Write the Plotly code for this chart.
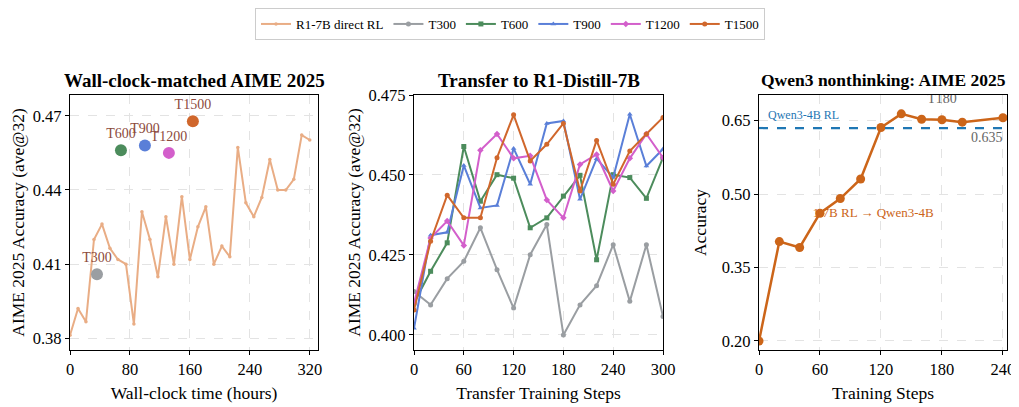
import plotly.graph_objects as go

# ---- left panel: wall-clock matched ----
rl_hours = [0, 10.7, 21.3, 32, 42.7, 53.3, 64, 74.7, 85.3, 96, 106.7, 117.3, 128, 138.7,
            149.3, 160, 170.7, 181.3, 192, 202.7, 213.3, 224, 234.7, 245.3, 256, 266.7,
            277.3, 288, 298.7, 309.3, 320]
rl_acc = [0.3813, 0.3921, 0.3867, 0.4200, 0.4262, 0.4164, 0.4119, 0.4100, 0.3858, 0.4312,
          0.4200, 0.4049, 0.4292, 0.4100, 0.4373, 0.4119, 0.4251, 0.4332, 0.4100, 0.4173,
          0.4130, 0.4572, 0.4348, 0.4292, 0.4370, 0.4523, 0.4400, 0.4400, 0.4443, 0.4622,
          0.4602]

teacher_names = ["T300", "T600", "T900", "T1200", "T1500"]
teacher_hours = [36, 68, 100, 132, 164]
teacher_acc = [0.4059, 0.4561, 0.4580, 0.4550, 0.4678]

# ---- middle panel: transfer to R1-Distill-7B ----
transfer_steps = [0, 20, 40, 60, 80, 100, 120, 140, 160, 180, 200, 220, 240, 260, 280, 300]
transfer_acc = {
    "T300": [0.4136, 0.4094, 0.4176, 0.4230, 0.4335, 0.4204, 0.4084, 0.4251,
             0.4345, 0.4000, 0.4094, 0.4154, 0.4282, 0.4105, 0.4282, 0.4058],
    "T600": [0.4100, 0.4199, 0.4288, 0.4589, 0.4418, 0.4501, 0.4490, 0.4335,
             0.4366, 0.4434, 0.4499, 0.4235, 0.4501, 0.4492, 0.4427, 0.4554],
    "T900": [0.4021, 0.4312, 0.4321, 0.4530, 0.4397, 0.4405, 0.4583, 0.4471,
             0.4661, 0.4669, 0.4424, 0.4551, 0.4492, 0.4690, 0.4528, 0.4581],
    "T1200": [0.4099, 0.4303, 0.4356, 0.4280, 0.4577, 0.4628, 0.4552, 0.4560,
              0.4422, 0.4366, 0.4533, 0.4564, 0.4450, 0.4552, 0.4628, 0.4554],
    "T1500": [0.4078, 0.4293, 0.4437, 0.4366, 0.4366, 0.4554, 0.4688, 0.4544,
              0.4596, 0.4661, 0.4450, 0.4608, 0.4471, 0.4575, 0.4628, 0.4680],
}

# ---- right panel: Qwen3 nonthinking ----
qwen_steps = [0, 20, 40, 60, 80, 100, 120, 140, 160, 180, 200, 240]
qwen_acc = [0.200, 0.403, 0.391, 0.461, 0.491, 0.531, 0.636, 0.664, 0.653, 0.652, 0.647, 0.656]
qwen_rl_baseline = 0.635

colors = {"RL": "#e9ad85", "T300": "#9a9ea2", "T600": "#4c8c5c", "T900": "#5a7fd8",
          "T1200": "#d35fcb", "T1500": "#d0672c"}
symbols = {"T300": "circle", "T600": "square", "T900": "triangle-up",
           "T1200": "diamond", "T1500": "circle"}
QWEN_ORANGE = "#cc6519"
LABEL_BROWN = "#8c4a3c"
FONT = "Liberation Serif, Times New Roman, serif"

# page body has an 8px margin, so size the figure to what is left of the window
W, H, OFF = 1011, 399, 8


def px_x(p):
    return (p - OFF) / W


def px_y(p):
    return 1 - (p - OFF) / H


fig = go.Figure()

# left
fig.add_trace(go.Scatter(x=rl_hours, y=rl_acc, mode="lines+markers", name="R1-7B direct RL",
                         line=dict(color=colors["RL"], width=2), marker=dict(size=3.5),
                         xaxis="x", yaxis="y"))
fig.add_trace(go.Scatter(x=teacher_hours, y=teacher_acc, mode="markers+text",
                         text=teacher_names, textposition="top center",
                         textfont=dict(color=LABEL_BROWN, size=14, family=FONT),
                         marker=dict(size=12, color=[colors[n] for n in teacher_names]),
                         showlegend=False, xaxis="x", yaxis="y"))

# middle
for name in teacher_names:
    fig.add_trace(go.Scatter(x=transfer_steps, y=transfer_acc[name], mode="lines+markers",
                             name=name, line=dict(color=colors[name], width=2),
                             marker=dict(size=5, symbol=symbols[name]),
                             xaxis="x2", yaxis="y2"))

# right: text first so the markers sit on top of it
fig.add_trace(go.Scatter(x=[53], y=[0.459], mode="text", text=["1.7B RL \u2192 Qwen3-4B"],
                         textposition="middle right",
                         textfont=dict(color=QWEN_ORANGE, size=13, family=FONT),
                         showlegend=False, xaxis="x3", yaxis="y3"))
fig.add_trace(go.Scatter(x=[180], y=[0.693], mode="text", text=["T180"],
                         textposition="middle center", cliponaxis=True,
                         textfont=dict(color="#666666", size=14, family=FONT),
                         showlegend=False, xaxis="x3", yaxis="y3"))
fig.add_trace(go.Scatter(x=qwen_steps, y=qwen_acc, mode="lines+markers",
                         line=dict(color=QWEN_ORANGE, width=2.5), marker=dict(size=9),
                         showlegend=False, xaxis="x3", yaxis="y3"))
fig.add_shape(type="line", xref="x3 domain", yref="y3", x0=0, x1=1,
              y0=qwen_rl_baseline, y1=qwen_rl_baseline,
              line=dict(color="#1f77b4", width=2.2, dash="dash"))
fig.add_annotation(xref="x3", yref="y3", x=7, y=0.662, text="Qwen3-4B RL", showarrow=False,
                   xanchor="left", font=dict(color="#1f77b4", size=12, family=FONT))
fig.add_annotation(xref="x3 domain", yref="y3", x=0.99, y=0.615, text="0.635",
                   showarrow=False, xanchor="right",
                   font=dict(color="#666666", size=14, family=FONT))

axis_common = dict(showline=True, linecolor="black", linewidth=1.3, mirror=True,
                   ticks="outside", ticklen=4, tickcolor="black", showgrid=True,
                   gridcolor="#e3e3e3", griddash="dash", gridwidth=1, zeroline=False,
                   automargin=False,
                   tickfont=dict(size=16.5, color="black", family=FONT),
                   title_font=dict(size=17.5, color="black", family=FONT))

ydom = [px_y(350), px_y(95)]
dom_left = [px_x(70), px_x(318)]
dom_mid = [px_x(414), px_x(663)]
dom_right = [px_x(759), px_x(1007)]

fig.update_layout(
    width=W, height=H,
    margin=dict(l=0, r=0, t=0, b=0),
    paper_bgcolor="white", plot_bgcolor="white",
    font=dict(family=FONT, color="black"),
    xaxis=dict(axis_common, domain=dom_left, range=[0, 331],
               tickvals=[0, 80, 160, 240, 320],
               title=dict(text="Wall-clock time (hours)", standoff=8)),
    yaxis=dict(axis_common, domain=ydom, range=[0.3753, 0.4784],
               tickvals=[0.38, 0.41, 0.44, 0.47], tickformat=".2f",
               title=dict(text="AIME 2025 Accuracy (ave@32)", standoff=3)),
    xaxis2=dict(axis_common, domain=dom_mid, range=[0, 300], anchor="y2",
                tickvals=[0, 60, 120, 180, 240, 300],
                title=dict(text="Transfer Training Steps", standoff=8)),
    yaxis2=dict(axis_common, domain=ydom, range=[0.3953, 0.475], anchor="x2",
                tickvals=[0.400, 0.425, 0.450, 0.475], tickformat=".3f",
                title=dict(text="AIME 2025 Accuracy (ave@32)", standoff=3)),
    xaxis3=dict(axis_common, domain=dom_right, range=[0, 244], anchor="y3",
                tickvals=[0, 60, 120, 180, 240],
                title=dict(text="Training Steps", standoff=8)),
    yaxis3=dict(axis_common, domain=ydom, range=[0.1816, 0.7025], anchor="x3",
                tickvals=[0.20, 0.35, 0.50, 0.65], tickformat=".2f",
                title=dict(text="Accuracy", standoff=10)),
    legend=dict(orientation="h", x=px_x(510), xanchor="center", y=1.0, yanchor="top",
                bordercolor="#cccccc", borderwidth=1, bgcolor="white",
                font=dict(size=13, family=FONT, color="black"), tracegroupgap=0),
)

titles = ["Wall-clock-matched AIME 2025", "Transfer to R1-Distill-7B",
          "Qwen3 nonthinking: AIME 2025"]
title_sizes = [19, 19, 17.5]
for t, d, s in zip(titles, [dom_left, dom_mid, dom_right], title_sizes):
    fig.add_annotation(xref="paper", yref="paper", x=(d[0] + d[1]) / 2, y=px_y(80),
                       xanchor="center", yanchor="middle", text="<b>%s</b>" % t,
                       showarrow=False, font=dict(size=s, family=FONT, color="black"))

fig.write_html("out.html")
